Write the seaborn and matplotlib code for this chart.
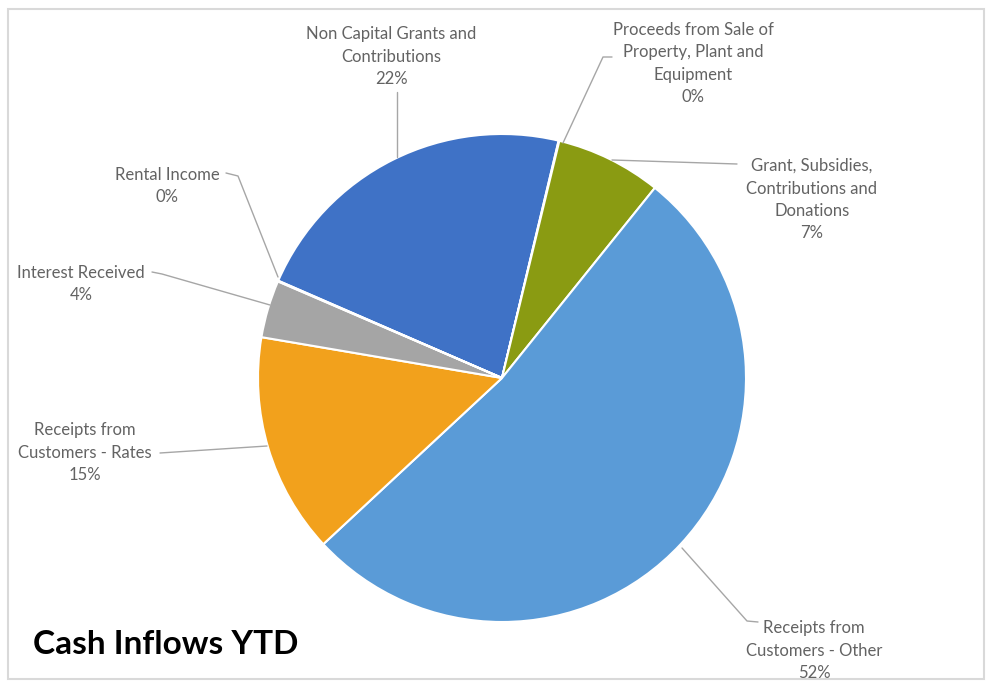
import matplotlib
matplotlib.use("Agg")
import matplotlib.pyplot as plt
import seaborn as sns
from matplotlib.patches import Rectangle

categories = [
    "Non Capital Grants and\nContributions",
    "Proceeds from Sale of\nProperty, Plant and\nEquipment",
    "Grant, Subsidies,\nContributions and\nDonations",
    "Receipts from\nCustomers - Other",
    "Receipts from\nCustomers - Rates",
    "Interest Received",
    "Rental Income",
]
values = [22.2, 0.05, 7.0, 52.3, 14.6, 3.8, 0.05]
colors = ["#3F72C6", "#A5A5A5", "#8A9B12", "#5A9BD7", "#F2A11C", "#A5A5A5", "#A5A5A5"]

W, H = 986, 682
sns.set_theme(style="white")
plt.rcParams['font.family'] = ['Lato', 'DejaVu Sans']

fig = plt.figure(figsize=(W / 100, H / 100), dpi=100)
ax = fig.add_axes([0, 0, 1, 1])
ax.set_xlim(0, W)
ax.set_ylim(0, H)
ax.set_aspect('equal')
ax.axis('off')

def Y(py):
    return H - py

palette = sns.color_palette(colors)
ax.pie(values, colors=palette, startangle=156.5, counterclock=False,
       center=(502, Y(378)), radius=244,
       wedgeprops=dict(edgecolor='white', linewidth=1.5))
ax.set_xlim(0, W)
ax.set_ylim(0, H)

total = sum(values)
pcts = [f"{round(v / total * 100):d}%" for v in values]

txt_color = "#636363"
line_color = "#A6A6A6"
# label block: center x, y of first line's centre
label_pos = [
    (391, 31),
    (693, 27),
    (812, 163),
    (814, 625),
    (85, 427),
    (81, 270),
    (167, 172),
]
leaders = [
    [(397, 92), (397, 157)],
    [(612, 57), (603, 57), (563, 143)],
    [(737, 164), (612, 160)],
    [(682, 548), (747, 621), (758, 622)],
    [(160, 453), (267, 446)],
    [(152, 272), (162, 274), (270, 305)],
    [(226, 173), (238, 176), (278, 277)],
]
for cat, pct, (x, y), pts in zip(categories, pcts, label_pos, leaders):
    ax.text(x, Y(y - 5), cat + "\n" + pct, ha='center', va='top', fontsize=12,
            color=txt_color, linespacing=1.5)
    ax.plot([p[0] for p in pts], [Y(p[1]) for p in pts], color=line_color, lw=1.0)

ax.text(33, Y(645), "Cash Inflows YTD", ha='left', va='center', fontsize=24,
        fontweight='bold', color='black')

ax.add_patch(Rectangle((8, Y(679)), 976, 670, fill=False, edgecolor='#D9D9D9', lw=1.5))

fig.savefig("out.png", dpi=100)
